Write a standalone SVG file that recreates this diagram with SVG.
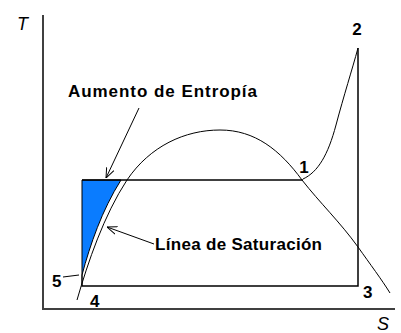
<svg xmlns="http://www.w3.org/2000/svg" width="401" height="333" viewBox="0 0 401 333">
<defs>
<style>
.ax{stroke:#404040;stroke-width:2;fill:none}
.ln{stroke:#000;stroke-width:1.5;fill:none}
.cv{stroke:#000;stroke-width:1;fill:none}
.lbl{font-family:"Liberation Sans",Arial,sans-serif;font-weight:bold;font-size:17px;fill:#000}
.num{font-family:"Liberation Sans",Arial,sans-serif;font-weight:bold;font-size:17px;fill:#000}
.axl{font-family:"Liberation Sans",Arial,sans-serif;font-style:italic;font-size:18px;fill:#000}
</style>
<marker id="ah" viewBox="0 0 10 10" refX="10" refY="5" markerWidth="10" markerHeight="10" markerUnits="userSpaceOnUse" orient="auto">
<path d="M0,1 L10,5 L0,9" fill="none" stroke="#000" stroke-width="1"/>
</marker>
</defs>
<rect width="401" height="333" fill="#fff"/>
<g id="axes">
<line class="ax" x1="43" y1="15" x2="43" y2="310"/>
<line class="ax" x1="42" y1="309" x2="395" y2="309"/>
<text class="axl" x="17" y="30">T</text>
<text class="axl" x="377" y="330">S</text>
</g>
<g id="area">
<path d="M82,180 L121,180 C102,210 90,245 82,275 Z" fill="#0a7cff" stroke="#000" stroke-width="1"/>
</g>
<g id="cycle">
<path class="ln" d="M82,180 L303,180"/>
<path class="cv" d="M303,179 C318,172 328,155 336,125 C344,95 352,70 358,48"/>
<path class="ln" d="M358,48 L358,286 L82,286 L82,275"/>
</g>
<g id="dome">
<path class="cv" d="M77,300 C88,262 104,215 127,180 C150,146 185,130 220,130 C255,130 280,150 302,180 C320,203 340,222 358,247 C370,264 382,280 390,293"/>
</g>
<g id="connectors">
<line class="cv" x1="139" y1="108" x2="106" y2="178" marker-end="url(#ah)"/>
<line class="cv" x1="154" y1="244" x2="107" y2="227" marker-end="url(#ah)"/>
<line class="cv" x1="63" y1="277" x2="79" y2="275"/>
</g>
<g id="labels">
<text class="lbl" x="68" y="97" textLength="189" lengthAdjust="spacing">Aumento de Entropía</text>
<text class="lbl" x="155" y="250" textLength="167" lengthAdjust="spacing">Línea de Saturación</text>
</g>
<g id="points">
<text class="num" x="357" y="35" text-anchor="middle">2</text>
<text class="num" x="304" y="173" text-anchor="middle">1</text>
<text class="num" x="363" y="298">3</text>
<text class="num" x="90" y="307">4</text>
<text class="num" x="52" y="287">5</text>
</g>
</svg>
